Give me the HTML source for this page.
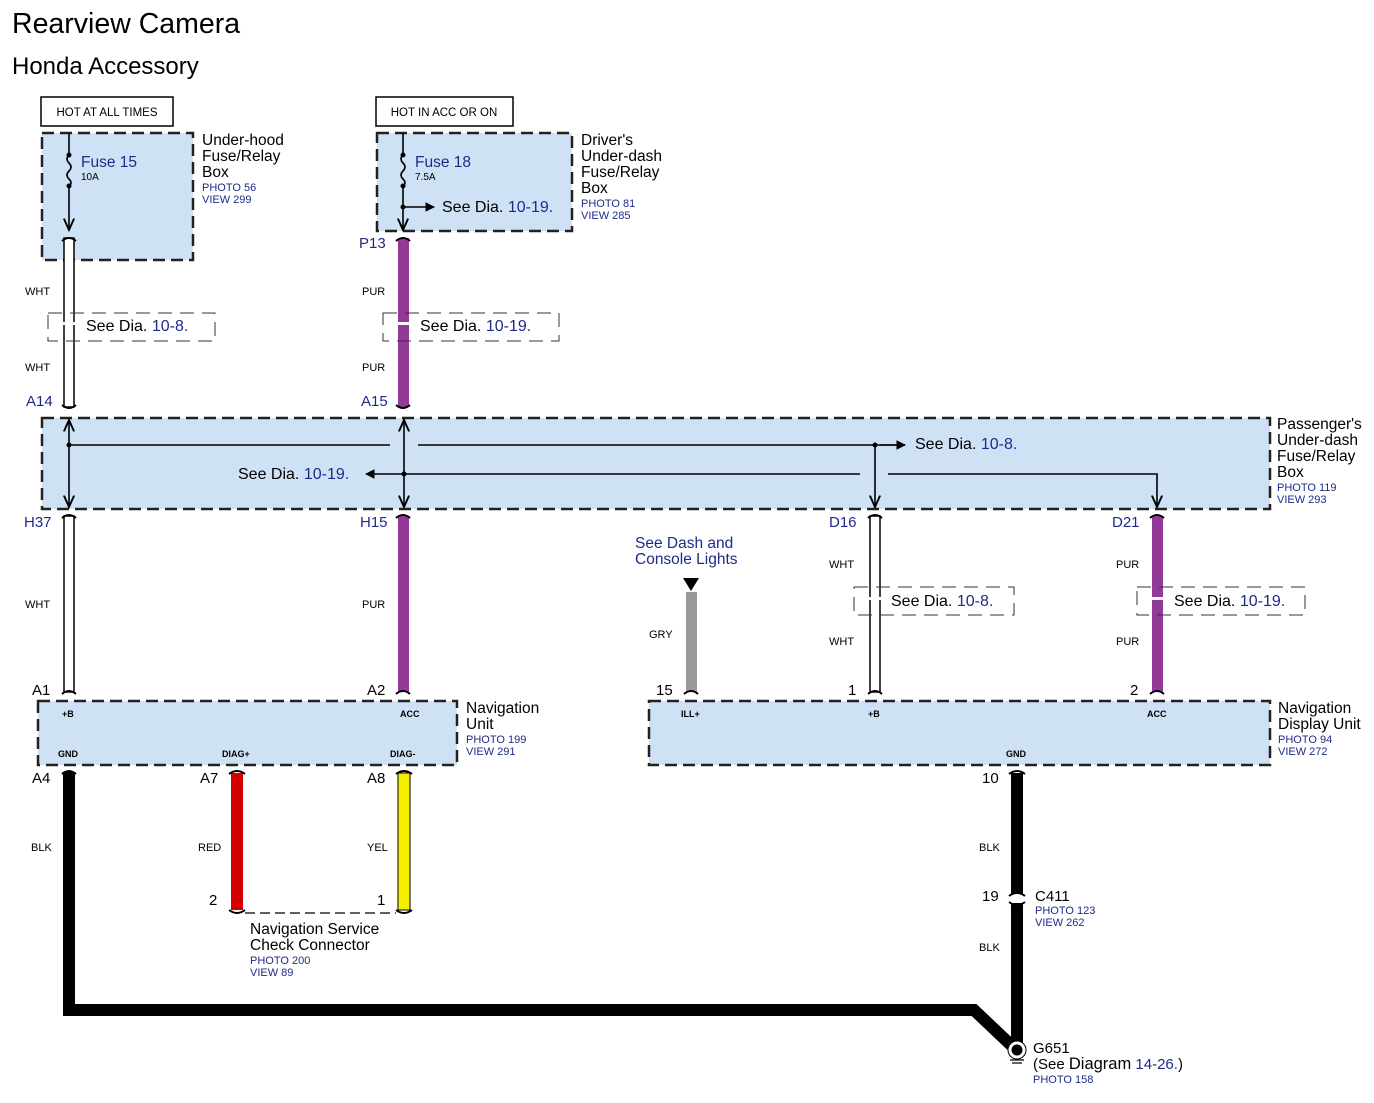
<!DOCTYPE html>
<html><head><meta charset="utf-8">
<style>
html,body{margin:0;padding:0;background:#fff;}
svg{display:block;font-family:"Liberation Sans",Arial,sans-serif;}
.b{fill:#1e2a8a;}
.k{fill:#000;}
.box{fill:#cfe1f4;stroke:#222;stroke-width:2.5;stroke-dasharray:12 6;}
.sd{fill:none;stroke:#333;stroke-width:1;stroke-dasharray:14 8;}
.ln{stroke:#000;stroke-width:1.6;fill:none;}
.cap{stroke:#000;stroke-width:2;fill:none;}
.pin{font-weight:bold;}
</style></head><body>
<svg width="1374" height="1103" viewBox="0 0 1374 1103" xmlns="http://www.w3.org/2000/svg">
<defs>
<marker id="ar" viewBox="0 0 10 10" refX="9" refY="5" markerWidth="6" markerHeight="6" orient="auto-start-reverse"><path d="M0,0 L10,5 L0,10 z" fill="#000"/></marker>
<marker id="av" viewBox="0 0 10 10" refX="9" refY="5" markerWidth="8" markerHeight="8" orient="auto-start-reverse"><path d="M0,1 L9,5 L0,9" fill="none" stroke="#000" stroke-width="1.5"/></marker>
</defs>
<text x="12" y="33" font-size="28.5" class="k">Rearview Camera</text>
<text x="12" y="74" font-size="24" class="k">Honda Accessory</text>

<rect x="41" y="97" width="132" height="29" fill="#fff" stroke="#000" stroke-width="1.5"/>
<text x="107" y="116" font-size="11.5" text-anchor="middle" class="k">HOT AT ALL TIMES</text>
<rect x="376" y="97" width="137" height="29" fill="#fff" stroke="#000" stroke-width="1.5"/>
<text x="444" y="116" font-size="11.5" text-anchor="middle" class="k">HOT IN ACC OR ON</text>

<rect x="42" y="133" width="151" height="127" class="box"/>
<path d="M69 133 V155 M69 186 V230" class="ln" marker-end="url(#av)"/>
<path d="M69 155 q-4 4 0 8 q4 4 0 8 q-4 4 0 8 q4 4 0 7" class="ln"/>
<circle cx="69" cy="155" r="2.5"/><circle cx="69" cy="186" r="2.5"/>
<text x="81" y="167" font-size="15.5" class="b">Fuse 15</text>
<text x="81" y="180" font-size="10" class="k">10A</text>
<text x="202" y="145" font-size="15.5" class="k">Under-hood</text>
<text x="202" y="161" font-size="15.5" class="k">Fuse/Relay</text>
<text x="202" y="177" font-size="15.5" class="k">Box</text>
<text x="202" y="191" font-size="11" class="b">PHOTO 56</text>
<text x="202" y="203" font-size="11" class="b">VIEW 299</text>

<rect x="377" y="133" width="195" height="98" class="box"/>
<path d="M403 133 V155 M403 186 V230" class="ln" marker-end="url(#av)"/>
<path d="M403 155 q-4 4 0 8 q4 4 0 8 q-4 4 0 8 q4 4 0 7" class="ln"/>
<circle cx="403" cy="155" r="2.5"/><circle cx="403" cy="186" r="2.5"/><circle cx="403" cy="207" r="2.5"/>
<path d="M403 207 H434" class="ln" marker-end="url(#ar)"/>
<text x="415" y="167" font-size="15.5" class="b">Fuse 18</text>
<text x="415" y="180" font-size="10" class="k">7.5A</text>
<text x="442" y="212" font-size="16" class="k">See Dia. <tspan class="b">10-19.</tspan></text>
<text x="581" y="145" font-size="15.5" class="k">Driver's</text>
<text x="581" y="161" font-size="15.5" class="k">Under-dash</text>
<text x="581" y="177" font-size="15.5" class="k">Fuse/Relay</text>
<text x="581" y="193" font-size="15.5" class="k">Box</text>
<text x="581" y="207" font-size="11" class="b">PHOTO 81</text>
<text x="581" y="219" font-size="11" class="b">VIEW 285</text>

<rect x="64" y="238" width="10" height="169" fill="#fff" stroke="#000" stroke-width="1.5"/>
<rect x="398" y="238" width="11" height="169" fill="#933a98"/>
<path d="M62 241 Q69 235 76 241 M62 405 Q69 411 76 405 M396 241 Q403 235 410 241 M396 405 Q403 411 410 405" class="cap"/>
<text x="25" y="295" font-size="11" class="k">WHT</text>
<text x="25" y="371" font-size="11" class="k">WHT</text>
<text x="362" y="295" font-size="11" class="k">PUR</text>
<text x="362" y="371" font-size="11" class="k">PUR</text>
<text x="359" y="248" font-size="15" class="b">P13</text>
<text x="26" y="406" font-size="15" class="b">A14</text>
<text x="361" y="406" font-size="15" class="b">A15</text>
<rect x="48" y="313" width="167" height="28" class="sd"/>
<rect x="383" y="313" width="176" height="28" class="sd"/>
<rect x="60" y="322" width="24" height="3" fill="#fff"/>
<rect x="395" y="322" width="20" height="3" fill="#fff"/>
<text x="86" y="331" font-size="16" class="k">See Dia. <tspan class="b">10-8.</tspan></text>
<text x="420" y="331" font-size="16" class="k">See Dia. <tspan class="b">10-19.</tspan></text>

<rect x="42" y="418" width="1228" height="91" class="box"/>
<path d="M69 420 V507" class="ln" marker-start="url(#av)" marker-end="url(#av)"/>
<path d="M404 420 V507" class="ln" marker-start="url(#av)" marker-end="url(#av)"/>
<path d="M69 445 H390 M418 445 H905" class="ln"/>
<path d="M880 445 H905" class="ln" marker-end="url(#ar)"/>
<circle cx="69" cy="445" r="2.5"/><circle cx="875" cy="445" r="2.5"/>
<path d="M875 445 V507" class="ln" marker-end="url(#av)"/>
<path d="M860 474 H366" class="ln" marker-end="url(#ar)"/>
<circle cx="404" cy="474" r="2.5"/>
<path d="M888 474 H1157 V507" class="ln" marker-end="url(#av)"/>
<text x="915" y="449" font-size="16" class="k">See Dia. <tspan class="b">10-8.</tspan></text>
<text x="238" y="479" font-size="16" class="k">See Dia. <tspan class="b">10-19.</tspan></text>
<text x="1277" y="429" font-size="15.5" class="k">Passenger's</text>
<text x="1277" y="445" font-size="15.5" class="k">Under-dash</text>
<text x="1277" y="461" font-size="15.5" class="k">Fuse/Relay</text>
<text x="1277" y="477" font-size="15.5" class="k">Box</text>
<text x="1277" y="491" font-size="11" class="b">PHOTO 119</text>
<text x="1277" y="503" font-size="11" class="b">VIEW 293</text>

<rect x="64" y="516" width="10" height="176" fill="#fff" stroke="#000" stroke-width="1.5"/>
<rect x="398" y="516" width="11" height="176" fill="#933a98"/>
<rect x="870" y="516" width="10" height="176" fill="#fff" stroke="#000" stroke-width="1.5"/>
<rect x="1152" y="516" width="11" height="176" fill="#933a98"/>
<rect x="686" y="592" width="11" height="100" fill="#999"/>
<path d="M683 578 H699 L691 591 z" fill="#000"/>
<path d="M62 518 Q69 512 76 518 M396 518 Q403 512 410 518 M868 518 Q875 512 882 518 M1150 518 Q1157 512 1164 518" class="cap"/>
<path d="M62 694 Q69 688 76 694 M396 694 Q403 688 410 694 M868 694 Q875 688 882 694 M1150 694 Q1157 688 1164 694 M684 694 Q691 688 698 694" class="cap"/>
<text x="24" y="527" font-size="15" class="b">H37</text>
<text x="360" y="527" font-size="15" class="b">H15</text>
<text x="829" y="527" font-size="15" class="b">D16</text>
<text x="1112" y="527" font-size="15" class="b">D21</text>
<text x="25" y="608" font-size="11" class="k">WHT</text>
<text x="362" y="608" font-size="11" class="k">PUR</text>
<text x="649" y="638" font-size="11" class="k">GRY</text>
<text x="829" y="568" font-size="11" class="k">WHT</text>
<text x="829" y="645" font-size="11" class="k">WHT</text>
<text x="1116" y="568" font-size="11" class="k">PUR</text>
<text x="1116" y="645" font-size="11" class="k">PUR</text>
<text x="635" y="548" font-size="15.5" class="b">See Dash and</text>
<text x="635" y="564" font-size="15.5" class="b">Console Lights</text>
<rect x="854" y="587" width="160" height="28" class="sd"/>
<rect x="1137" y="587" width="168" height="28" class="sd"/>
<rect x="866" y="597" width="20" height="3" fill="#fff"/>
<rect x="1148" y="597" width="20" height="3" fill="#fff"/>
<text x="891" y="606" font-size="16" class="k">See Dia. <tspan class="b">10-8.</tspan></text>
<text x="1174" y="606" font-size="16" class="k">See Dia. <tspan class="b">10-19.</tspan></text>
<text x="32" y="695" font-size="15" class="k">A1</text>
<text x="367" y="695" font-size="15" class="k">A2</text>
<text x="656" y="695" font-size="15" class="k">15</text>
<text x="848" y="695" font-size="15" class="k">1</text>
<text x="1130" y="695" font-size="15" class="k">2</text>

<rect x="38" y="701" width="419" height="64" class="box"/>
<text x="62" y="717" font-size="9" class="k pin">+B</text>
<text x="400" y="717" font-size="9" class="k pin">ACC</text>
<text x="58" y="757" font-size="9" class="k pin">GND</text>
<text x="222" y="757" font-size="9" class="k pin">DIAG+</text>
<text x="390" y="757" font-size="9" class="k pin">DIAG-</text>
<text x="466" y="713" font-size="15.5" class="k">Navigation</text>
<text x="466" y="729" font-size="15.5" class="k">Unit</text>
<text x="466" y="743" font-size="11" class="b">PHOTO 199</text>
<text x="466" y="755" font-size="11" class="b">VIEW 291</text>

<rect x="649" y="701" width="621" height="64" class="box"/>
<text x="681" y="717" font-size="9" class="k pin">ILL+</text>
<text x="868" y="717" font-size="9" class="k pin">+B</text>
<text x="1147" y="717" font-size="9" class="k pin">ACC</text>
<text x="1006" y="757" font-size="9" class="k pin">GND</text>
<text x="1278" y="713" font-size="15.5" class="k">Navigation</text>
<text x="1278" y="729" font-size="15.5" class="k">Display Unit</text>
<text x="1278" y="743" font-size="11" class="b">PHOTO 94</text>
<text x="1278" y="755" font-size="11" class="b">VIEW 272</text>

<path d="M69 772 V1010 H974 L1012 1046" stroke="#000" stroke-width="12" fill="none" stroke-linejoin="miter"/>
<rect x="1011" y="773" width="12" height="121" fill="#000"/>
<rect x="1011" y="903" width="12" height="140" fill="#000"/>
<path d="M1009 896 Q1017 890 1025 896 M1009 902 Q1017 908 1025 902" class="cap"/>
<rect x="231" y="773" width="12" height="137" fill="#d40000"/>
<rect x="398" y="773" width="12" height="137" fill="#f5f000" stroke="#000" stroke-width="1"/>
<path d="M62 774 Q69 768 76 774 M229 774 Q237 768 245 774 M396 774 Q404 768 412 774 M1009 774 Q1017 768 1025 774" class="cap"/>
<path d="M229 910 Q237 916 245 910 M396 910 Q404 916 412 910" class="cap"/>
<path d="M245 913 H396" stroke="#000" stroke-width="1.2" stroke-dasharray="10 5"/>
<text x="32" y="783" font-size="15" class="k">A4</text>
<text x="200" y="783" font-size="15" class="k">A7</text>
<text x="367" y="783" font-size="15" class="k">A8</text>
<text x="982" y="783" font-size="15" class="k">10</text>
<text x="31" y="851" font-size="11" class="k">BLK</text>
<text x="198" y="851" font-size="11" class="k">RED</text>
<text x="367" y="851" font-size="11" class="k">YEL</text>
<text x="979" y="851" font-size="11" class="k">BLK</text>
<text x="209" y="905" font-size="15" class="k">2</text>
<text x="377" y="905" font-size="15" class="k">1</text>
<text x="250" y="934" font-size="15.5" class="k">Navigation Service</text>
<text x="250" y="950" font-size="15.5" class="k">Check Connector</text>
<text x="250" y="964" font-size="11" class="b">PHOTO 200</text>
<text x="250" y="976" font-size="11" class="b">VIEW 89</text>
<text x="982" y="901" font-size="15" class="k">19</text>
<text x="1035" y="901" font-size="15" class="k">C411</text>
<text x="1035" y="914" font-size="11" class="b">PHOTO 123</text>
<text x="1035" y="926" font-size="11" class="b">VIEW 262</text>
<text x="979" y="951" font-size="11" class="k">BLK</text>
<circle cx="1017" cy="1050" r="9" fill="#fff" stroke="#000" stroke-width="1"/>
<circle cx="1017" cy="1050" r="5.5" fill="#000"/>
<path d="M1010 1060 H1024 M1012 1063 H1022" stroke="#000" stroke-width="1.2"/>
<text x="1033" y="1053" font-size="15" class="k">G651</text>
<text x="1033" y="1069" font-size="15" class="k">(See <tspan font-size="16.5">Diagram</tspan> <tspan class="b">14-26.</tspan>)</text>
<text x="1033" y="1083" font-size="11" class="b">PHOTO 158</text>
</svg>
</body></html>
